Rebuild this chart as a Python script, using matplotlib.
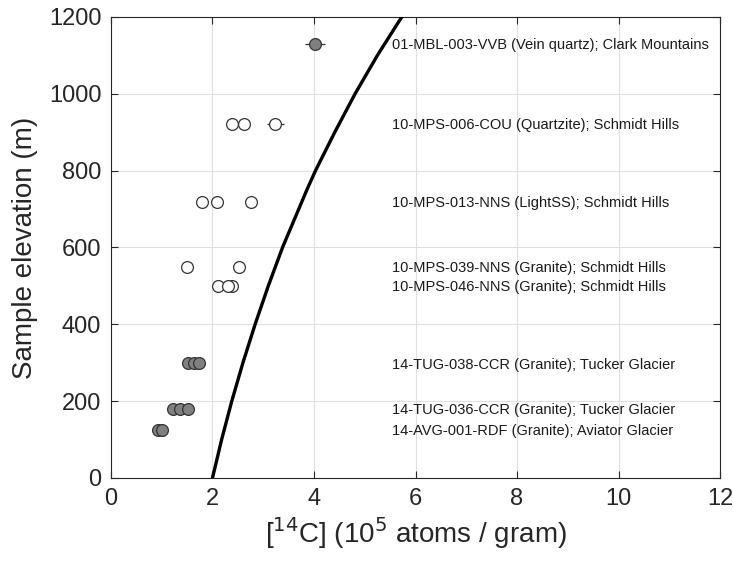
import matplotlib
matplotlib.use("Agg")
import matplotlib.pyplot as plt

# samples: name, elevation (m), measured [14C] (10^5 atoms/g), 1-sigma errors
sample_labels = [
    "01-MBL-003-VVB (Vein quartz); Clark Mountains",
    "10-MPS-006-COU (Quartzite); Schmidt Hills",
    "10-MPS-013-NNS (LightSS); Schmidt Hills",
    "10-MPS-039-NNS (Granite); Schmidt Hills",
    "10-MPS-046-NNS (Granite); Schmidt Hills",
    "14-TUG-038-CCR (Granite); Tucker Glacier",
    "14-TUG-036-CCR (Granite); Tucker Glacier",
    "14-AVG-001-RDF (Granite); Aviator Glacier",
]
sample_elev = [1130, 922, 718, 550, 500, 298, 180, 125]
sample_conc = [
    [4.02],
    [2.38, 2.62, 3.24],
    [1.79, 2.08, 2.76],
    [1.50, 2.53],
    [2.10, 2.39, 2.31],
    [1.51, 1.63, 1.74],
    [1.23, 1.36, 1.51],
    [0.93, 1.00],
]
sample_err = [
    [0.20],
    [0.05, 0.05, 0.16],
    [0.05, 0.05, 0.12],
    [0.05, 0.05],
    [0.05, 0.05, 0.05],
    [0.05, 0.05, 0.05],
    [0.05, 0.05, 0.05],
    [0.05, 0.05],
]
sample_filled = [True, False, False, False, False, True, True, True]

# saturation concentration vs elevation
sat_elev = [0, 50, 100, 150, 200, 250, 300, 350, 400, 450, 500, 550, 600,
            650, 700, 750, 800, 850, 900, 950, 1000, 1050, 1100, 1150, 1200]
sat_conc = [2.00, 2.09, 2.18, 2.28, 2.38, 2.49, 2.60, 2.72, 2.84, 2.97,
            3.10, 3.24, 3.38, 3.54, 3.70, 3.86, 4.03, 4.22, 4.41, 4.61,
            4.81, 5.03, 5.25, 5.49, 5.73]

label_x = 5.53

plt.rcParams["font.family"] = ["Liberation Sans", "DejaVu Sans"]

fig = plt.figure(figsize=(7.33, 5.61), dpi=100)
ax = fig.add_axes([0.1514, 0.148, 0.831, 0.822])

ax.plot(sat_conc, sat_elev, color="black", lw=2.4, zorder=3)

for conc, err, elev, filled in zip(sample_conc, sample_err, sample_elev, sample_filled):
    face = "#808080" if filled else "white"
    for c, e in zip(conc, err):
        ax.errorbar(c, elev, xerr=e, fmt="o", ms=8.5, mfc=face, mec="#333333",
                    mew=0.9, ecolor="#333333", elinewidth=0.9, capsize=0,
                    zorder=4)

for lab, elev in zip(sample_labels, sample_elev):
    ax.text(label_x, elev - 3, lab, fontsize=10.5, color="#1a1a1a",
            va="center", ha="left")

ax.set_xlim(0, 12)
ax.set_ylim(0, 1200)
ax.set_xticks(range(0, 13, 2))
ax.set_yticks(range(0, 1201, 200))
ax.grid(True, color="#e0e0e0", lw=0.8)
ax.set_axisbelow(True)
for s in ax.spines.values():
    s.set_color("#262626")
    s.set_linewidth(0.8)
ax.tick_params(direction="in", length=5, width=0.8, colors="#262626",
               labelsize=17, top=True, right=True, pad=7)
ax.set_xlabel(r"[$^{14}$C] (10$^{5}$ atoms / gram)", fontsize=20, color="#262626")
ax.set_ylabel("Sample elevation (m)", fontsize=20, color="#262626", labelpad=8)

fig.savefig("out.png", dpi=100)
